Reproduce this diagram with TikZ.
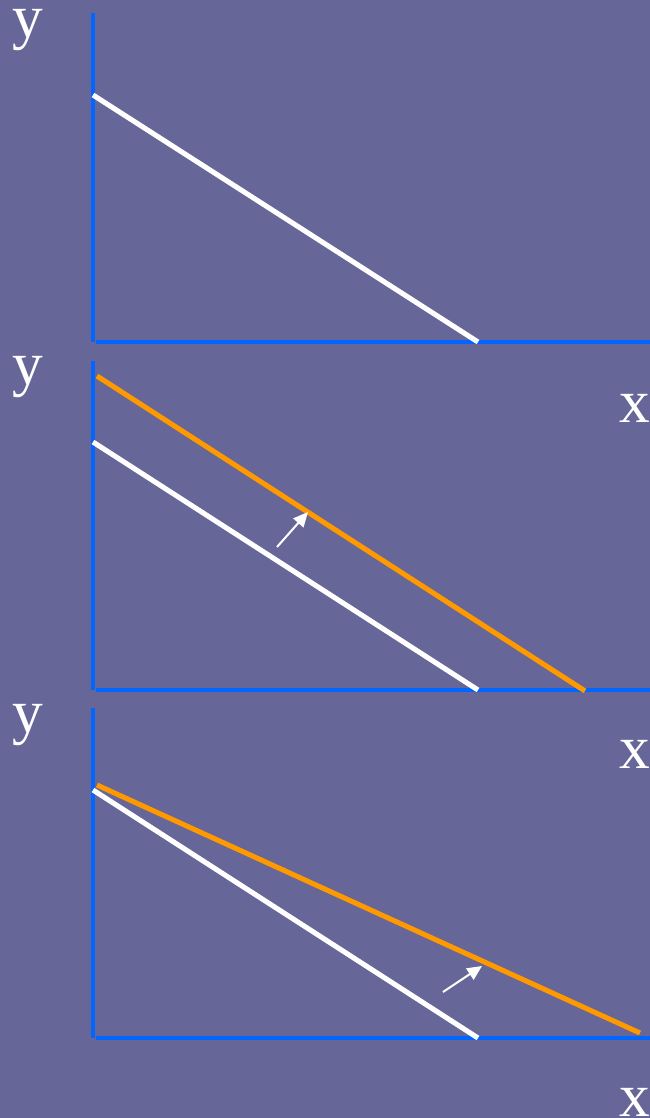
\documentclass[tikz,border=0pt]{standalone}
\usepackage{fontspec}
\setmainfont{Liberation Serif}
\usetikzlibrary{arrows.meta}
\definecolor{bg}{RGB}{102,102,153}
\definecolor{axisblue}{RGB}{0,102,255}
\definecolor{shiftorange}{RGB}{255,153,0}
\begin{document}
\begin{tikzpicture}[x=0.75pt,y=-0.75pt,
  axisline/.style={axisblue,line width=3pt},
  oldline/.style={white,line width=3.8pt},
  newline/.style={shiftorange,line width=3.8pt},
  shiftarrow/.style={white,line width=1.5pt,-{Triangle[length=11pt,width=10pt]}},
  axlabel/.style={white,font=\fontsize{46}{46}\selectfont,inner sep=0pt,anchor=base west}]
\fill[bg] (0,0) rectangle (650,1118);
\useasboundingbox (0,0) rectangle (650,1118);
% panel 1
\coordinate (v1t) at (93,13); \coordinate (v1b) at (93,342);
\coordinate (h1l) at (96,342); \coordinate (h1r) at (650,342);
\draw[axisline] (v1t) -- (v1b);
\draw[axisline] (h1l) -- (h1r);
\coordinate (w1a) at (93,95); \coordinate (w1b) at (478,342);
\draw[oldline] (w1a) -- (w1b);
\node[axlabel] (y1) at (12,37) {y};
\node[axlabel] (x1) at (619,422) {x};
% panel 2
\coordinate (v2t) at (93,361); \coordinate (v2b) at (93,690);
\coordinate (h2l) at (96,690); \coordinate (h2r) at (650,690);
\draw[axisline] (v2t) -- (v2b);
\draw[axisline] (h2l) -- (h2r);
\coordinate (w2a) at (93,442); \coordinate (w2b) at (478,690);
\draw[oldline] (w2a) -- (w2b);
\coordinate (o2a) at (97,376); \coordinate (o2b) at (585,691);
\draw[newline] (o2a) -- (o2b);
\coordinate (a2t) at (277,547); \coordinate (a2h) at (308,512);
\draw[shiftarrow] (a2t) -- (a2h);
\node[axlabel] (y2) at (12,384) {y};
\node[axlabel] (x2) at (619,768) {x};
% panel 3
\coordinate (v3t) at (93,708); \coordinate (v3b) at (93,1038);
\coordinate (h3l) at (96,1038); \coordinate (h3r) at (650,1038);
\draw[axisline] (v3t) -- (v3b);
\draw[axisline] (h3l) -- (h3r);
\coordinate (w3a) at (93,790); \coordinate (w3b) at (478,1038);
\draw[oldline] (w3a) -- (w3b);
\coordinate (o3a) at (97,785); \coordinate (o3b) at (640,1033);
\draw[newline] (o3a) -- (o3b);
\coordinate (a3t) at (443,992); \coordinate (a3h) at (482,966);
\draw[shiftarrow] (a3t) -- (a3h);
\node[axlabel] (y3) at (12,732) {y};
\node[axlabel] (x3) at (619,1116) {x};
\end{tikzpicture}
\end{document}
